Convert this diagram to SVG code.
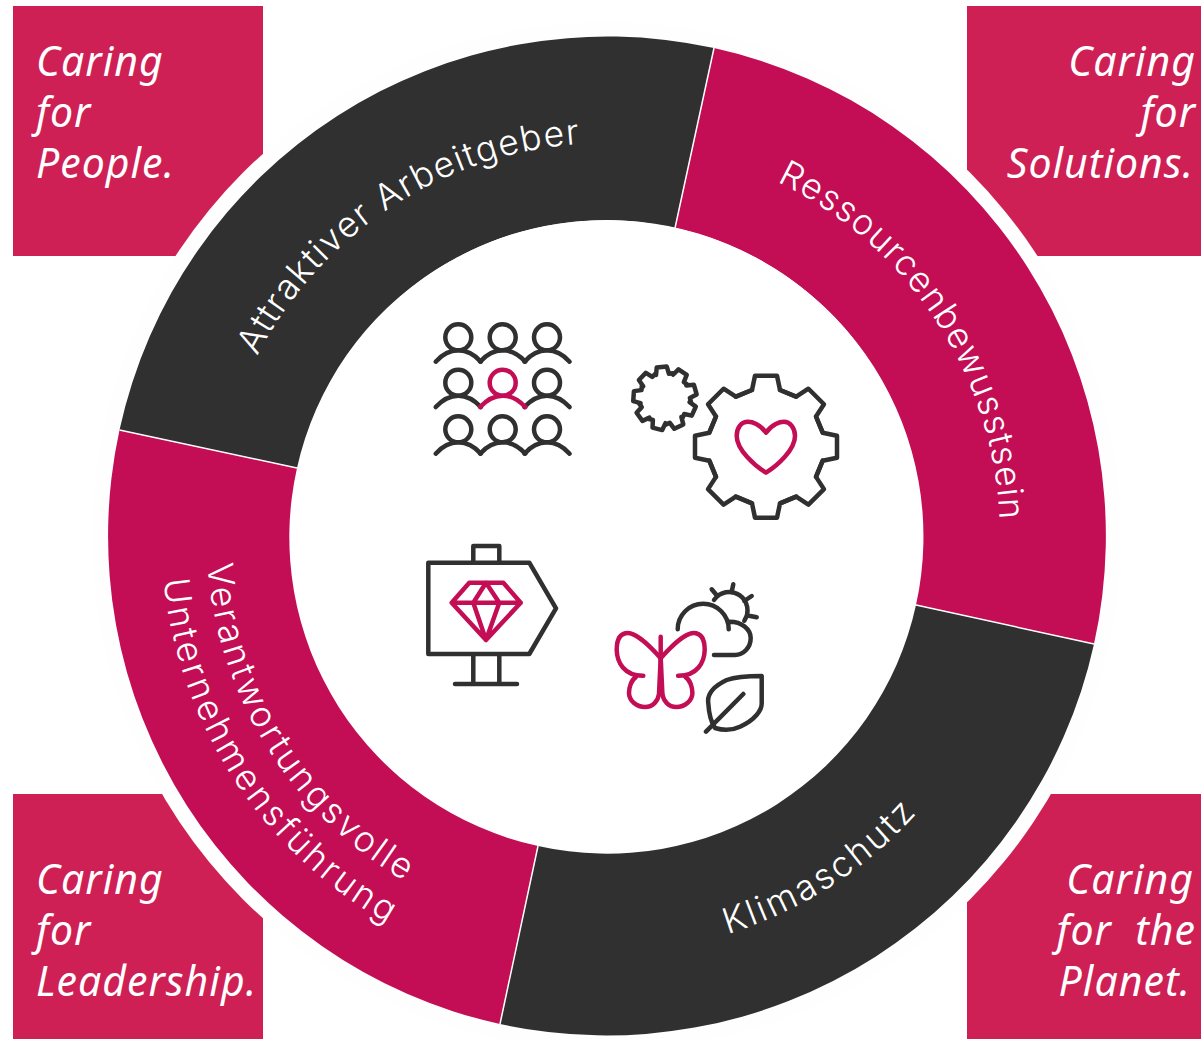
<svg xmlns="http://www.w3.org/2000/svg" xmlns:xlink="http://www.w3.org/1999/xlink" width="1201" height="1039" viewBox="0 0 1201 1039">
<style>
.box{fill:#cf2056}
.cap{font-family:"Noto Sans","Liberation Sans",sans-serif;font-style:italic;font-size:41px;letter-spacing:1px;fill:#fff}
.r{text-anchor:end}
.rt{font-family:Inter,"Noto Sans",sans-serif;font-weight:300;font-size:35.5px;fill:#fff}
.pk{fill:#c30e55}.dk{fill:#303030}
.i{fill:none;stroke:#303030;stroke-width:4.5;stroke-linecap:round;stroke-linejoin:round}
.ip{fill:none;stroke:#c30e55;stroke-width:4.5;stroke-linecap:round;stroke-linejoin:round}
.div{stroke:#fff;stroke-width:1.5}
</style>
<defs>
<path id="cw" d="M213.5,536A393,393 0 1 1 999.5,536A393,393 0 1 1 213.5,536"/>
<path id="ccwK" d="M190.5,536A416,416 0 0 0 1022.5,536"/>
<path id="ccwV" d="M206.5,536A400,400 0 0 0 1006.5,536"/>
<path id="ccwU" d="M161.5,536A445,445 0 0 0 1051.5,536"/>
<path id="rcw" d="M606.5,143A393,393 0 0 1 1000,536"/>
<g id="pers"><circle cx="0" cy="0" r="13"/><path d="M-22.6,24.4C-15,16 -8,13 0,13C8,13 15,16 22.6,24.4"/></g>
<path id="tb" d="M-30.2,-50L-14,-56.7L-11,-71H11L14,-56.7L30.2,-50"/>
<path id="ts" d="M-6.5,-24L-5,-31.5H5L6.5,-24L10.5,-24"/>
<g id="wing"><path d="M660.7,658.3C650,646 636,633 628,633C620,633 616.7,640 616.7,650C617,662 624,676 643.3,675.7"/><path d="M636,677C631,680 629,688 629,693C629,701 637,707 645,707C653,707 658,701 659,694L660.7,658"/></g>
</defs>
<rect width="1201" height="1039" fill="#fff"/>
<g id="box-people"><rect class="box" x="13" y="6" width="250" height="250"/><text class="cap" x="36" y="76">Caring</text><text class="cap" x="36" y="127">for</text><text class="cap" x="36" y="178">People.</text></g>
<g id="box-solutions"><rect class="box" x="967" y="6" width="234" height="250"/><text class="cap r" x="1196" y="76">Caring</text><text class="cap r" x="1196" y="127">for</text><text class="cap r" x="1194" y="178">Solutions.</text></g>
<g id="box-leadership"><rect class="box" x="13" y="794" width="250" height="245"/><text class="cap" x="36" y="894">Caring</text><text class="cap" x="36" y="945">for</text><text class="cap" x="36" y="996">Leadership.</text></g>
<g id="box-planet"><rect class="box" x="967" y="794" width="234" height="245"/><text class="cap r" x="1194" y="894">Caring</text><text class="cap r" x="1196" y="945" xml:space="preserve">for  the</text><text class="cap r" x="1191" y="996">Planet.</text></g>
<g id="ring">
<circle cx="606.5" cy="536" r="514" fill="#fefefe"/>
<g id="seg-attraktiv"><path class="dk" d="M119.5,430A499.5,499.5 0 0 1 714,48L675,228A316,316 0 0 0 297,468Z"/><text class="rt"><textPath href="#cw" xlink:href="#cw" startOffset="187" textLength="403">Attraktiver Arbeitgeber</textPath></text></g>
<g id="seg-ressourcen"><path class="pk" d="M714,48A499.5,499.5 0 0 1 1094,644L916,605A316,316 0 0 0 675,228Z"/><text class="rt"><textPath href="#rcw" xlink:href="#rcw" startOffset="176" textLength="425">Ressourcenbewusstsein</textPath></text></g>
<g id="seg-klima"><path class="dk" d="M1094,644A499.5,499.5 0 0 1 500,1024L538,846A316,316 0 0 0 916,605Z"/><text class="rt"><textPath href="#ccwK" xlink:href="#ccwK" startOffset="776" textLength="227">Klimaschutz</textPath></text></g>
<g id="seg-verantwortung"><path class="pk" d="M500,1024A499.5,499.5 0 0 1 119.5,430L297,468A316,316 0 0 0 538,846Z"/><text class="rt"><textPath href="#ccwV" xlink:href="#ccwV" startOffset="28" textLength="388">Verantwortungsvolle</textPath></text><text class="rt"><textPath href="#ccwU" xlink:href="#ccwU" startOffset="44" textLength="426">Unternehmensführung</textPath></text></g>
<circle cx="606.5" cy="536" r="316" fill="#fff"/>
</g>
<g id="connectors" class="div"><path d="M714,48L675,228M1094,644L916,605M500,1024L538,846M119.5,430L297,468"/></g>
<g id="icon-people">
<g class="i"><use href="#pers" xlink:href="#pers" x="458.3" y="337.3"/><use href="#pers" xlink:href="#pers" x="502.7" y="337.3"/><use href="#pers" xlink:href="#pers" x="547" y="337.3"/><use href="#pers" xlink:href="#pers" x="458.3" y="382.7"/><use href="#pers" xlink:href="#pers" x="547" y="382.7"/><use href="#pers" xlink:href="#pers" x="458.3" y="429.3"/><use href="#pers" xlink:href="#pers" x="502.7" y="429.3"/><use href="#pers" xlink:href="#pers" x="547" y="429.3"/></g>
<g class="ip"><use href="#pers" xlink:href="#pers" x="502.7" y="382.7"/></g>
</g>
<g id="icon-gears">
<g class="i" transform="translate(766,446.7)"><use href="#tb" xlink:href="#tb"/><use href="#tb" xlink:href="#tb" transform="rotate(45)"/><use href="#tb" xlink:href="#tb" transform="rotate(90)"/><use href="#tb" xlink:href="#tb" transform="rotate(135)"/><use href="#tb" xlink:href="#tb" transform="rotate(180)"/><use href="#tb" xlink:href="#tb" transform="rotate(225)"/><use href="#tb" xlink:href="#tb" transform="rotate(270)"/><use href="#tb" xlink:href="#tb" transform="rotate(315)"/></g>
<g class="i" transform="translate(665,398.3) rotate(-6)"><use href="#ts" xlink:href="#ts"/><use href="#ts" xlink:href="#ts" transform="rotate(40)"/><use href="#ts" xlink:href="#ts" transform="rotate(80)"/><use href="#ts" xlink:href="#ts" transform="rotate(120)"/><use href="#ts" xlink:href="#ts" transform="rotate(160)"/><use href="#ts" xlink:href="#ts" transform="rotate(200)"/><use href="#ts" xlink:href="#ts" transform="rotate(240)"/><use href="#ts" xlink:href="#ts" transform="rotate(280)"/><use href="#ts" xlink:href="#ts" transform="rotate(320)"/></g>
<path class="ip" d="M766,432.7C760,424 752,421.7 748,421.7C741,421.7 736.7,428 736.7,436C736.7,450 755,466 766,472.7C777,466 795,450 795,436C795,428 790,421.7 784,421.7C780,421.7 772,424 766,432.7Z"/>
</g>
<g id="icon-sign">
<path class="i" d="M428.3,562.7H529.3L556,608.3L529.3,654H428.3ZM473.3,562.7V546H499.3V562.7M473.3,654V684M499.3,654V684M455,684H517"/>
<path class="ip" d="M451.7,602.7L469.3,582.7H503.3L520.7,602.7L486,640ZM451.7,602.7H520.7M486,582.7L473.3,602.7L486,640L499.3,602.7Z"/>
</g>
<g id="icon-nature">
<path class="i" d="M677.7,629.3A25.5,25.5 0 0 1 728.7,629.3M728.3,621.7C742,621 750.7,630 750.7,638C750.7,648 743,655 735,655H714M714,600A16.7,16.7 0 0 1 744.3,620.7M711.7,589.3L717.3,596M733.3,584.3L731.7,591.7M751.7,596L744.3,601M756.7,617.3L749,615.7"/>
<path class="i" d="M761.7,676C745,676 735,677 726.7,680C712,687 707,695 708.3,703.3C709,715 711,722 715,728C725,731 733,730 740,726.7C755,720 762,710 761.7,703.3ZM706,731.7L743.3,694"/>
<g class="ip"><use href="#wing" xlink:href="#wing"/><use href="#wing" xlink:href="#wing" transform="translate(1321.4,0) scale(-1,1)"/><path d="M660.7,636.7V658"/></g>
</g>
</svg>
